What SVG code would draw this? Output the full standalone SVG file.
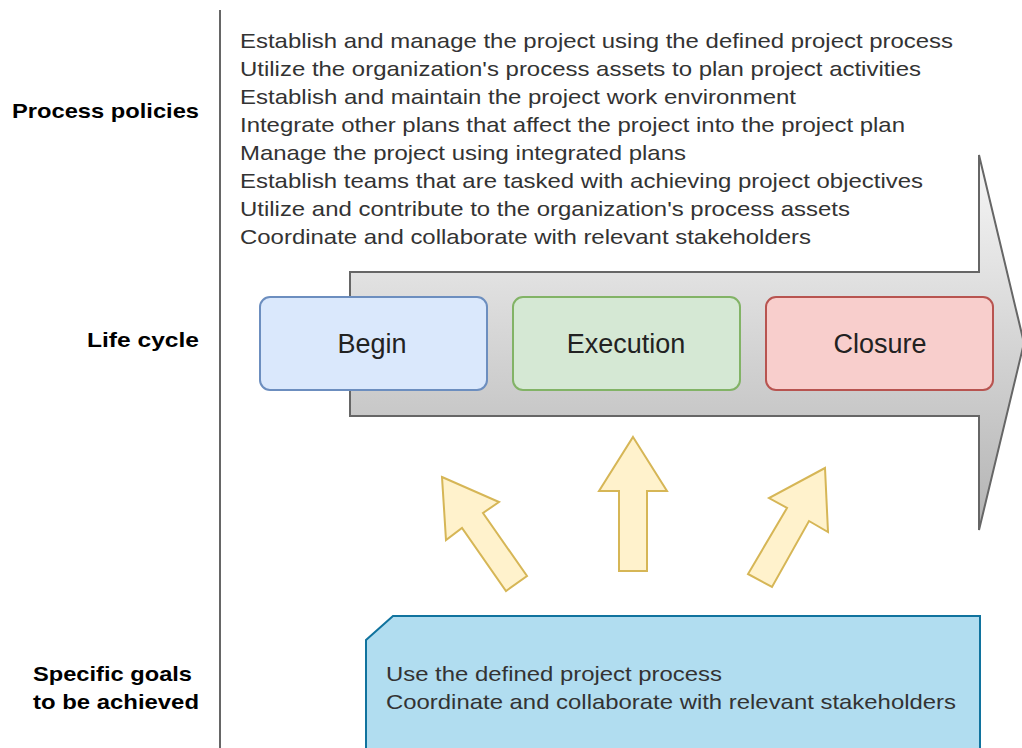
<svg xmlns="http://www.w3.org/2000/svg" width="1022" height="748" viewBox="0 0 1022 748">
<defs>
<linearGradient id="gray" x1="0" y1="0" x2="0" y2="1">
<stop offset="0" stop-color="#f7f7f7"/>
<stop offset="1" stop-color="#b3b3b3"/>
</linearGradient>
<style>
.lbl{font-family:"Liberation Sans",Arial,sans-serif;font-weight:bold;font-size:21px;fill:#000;text-anchor:end}
.txt{font-family:"Liberation Sans",Arial,sans-serif;font-size:21px;fill:#333}
.box{font-family:"Liberation Sans",Arial,sans-serif;font-size:27px;fill:#222;text-anchor:middle}
.yarrow{fill:#fff2cc;stroke:#d6b656;stroke-width:2}
</style>
</defs>
<rect width="1022" height="748" fill="#ffffff"/>
<line x1="220" y1="10" x2="220" y2="748" stroke="#333" stroke-width="1.5"/>
<g id="labels">
<text class="lbl" x="199" y="118" textLength="187" lengthAdjust="spacingAndGlyphs">Process policies</text>
<text class="lbl" x="199" y="347" textLength="112" lengthAdjust="spacingAndGlyphs">Life cycle</text>
<text class="lbl" x="192" y="681" textLength="159" lengthAdjust="spacingAndGlyphs">Specific goals</text>
<text class="lbl" x="199" y="709" textLength="166" lengthAdjust="spacingAndGlyphs">to be achieved</text>
</g>
<g id="policies">
<text class="txt" x="240" y="48" textLength="713" lengthAdjust="spacingAndGlyphs">Establish and manage the project using the defined project process</text>
<text class="txt" x="240" y="76" textLength="681" lengthAdjust="spacingAndGlyphs">Utilize the organization's process assets to plan project activities</text>
<text class="txt" x="240" y="104" textLength="556" lengthAdjust="spacingAndGlyphs">Establish and maintain the project work environment</text>
<text class="txt" x="240" y="132" textLength="665" lengthAdjust="spacingAndGlyphs">Integrate other plans that affect the project into the project plan</text>
<text class="txt" x="240" y="160" textLength="446" lengthAdjust="spacingAndGlyphs">Manage the project using integrated plans</text>
<text class="txt" x="240" y="188" textLength="683" lengthAdjust="spacingAndGlyphs">Establish teams that are tasked with achieving project objectives</text>
<text class="txt" x="240" y="216" textLength="610" lengthAdjust="spacingAndGlyphs">Utilize and contribute to the organization's process assets</text>
<text class="txt" x="240" y="244" textLength="571" lengthAdjust="spacingAndGlyphs">Coordinate and collaborate with relevant stakeholders</text>
</g>
<g id="lifecycle-arrow">
<polygon points="350,272 979,272 979,155 1024,343 979,530 979,416 350,416" fill="url(#gray)" stroke="#666" stroke-width="2"/>
</g>
<g id="begin">
<rect x="260" y="297" width="227" height="93" rx="10" fill="#dae8fc" stroke="#6c8ebf" stroke-width="2"/>
<text class="box" x="372" y="353">Begin</text>
</g>
<g id="execution">
<rect x="513" y="297" width="227" height="93" rx="10" fill="#d5e8d4" stroke="#82b366" stroke-width="2"/>
<text class="box" x="626" y="353">Execution</text>
</g>
<g id="closure">
<rect x="766" y="297" width="227" height="93" rx="10" fill="#f8cecc" stroke="#b85450" stroke-width="2"/>
<text class="box" x="880" y="353">Closure</text>
</g>
<g id="connectors">
<polygon class="yarrow" points="442,477 499,502 483,513 527,576 506,591 462,528 446,540"/>
<polygon class="yarrow" points="633,437 667,491 647,491 647,571 619,571 619,491 599,491"/>
<polygon class="yarrow" points="825,468 828,532 809,521 772,587 748,574 787,508 769,498"/>
</g>
<g id="goals">
<polygon points="366,640 393,616 980,616 980,750 366,750" fill="#b1ddf0" stroke="#10739e" stroke-width="2"/>
<text class="txt" x="386" y="681" textLength="336" lengthAdjust="spacingAndGlyphs">Use the defined project process</text>
<text class="txt" x="386" y="709" textLength="570" lengthAdjust="spacingAndGlyphs">Coordinate and collaborate with relevant stakeholders</text>
</g>
</svg>
